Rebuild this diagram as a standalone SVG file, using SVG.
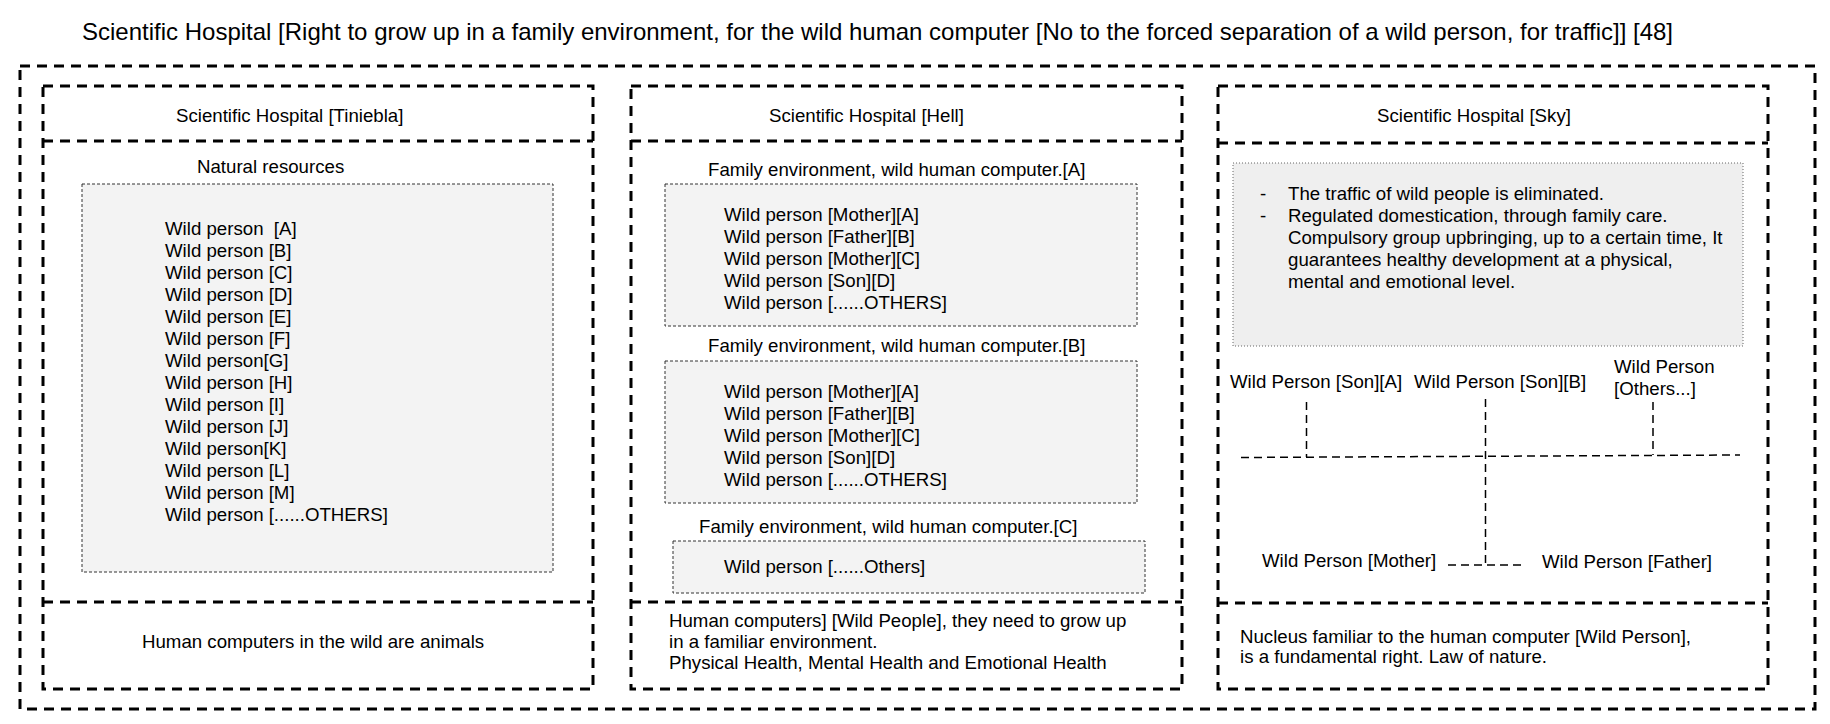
<svg xmlns="http://www.w3.org/2000/svg" width="1830" height="724" viewBox="0 0 1830 724">
<style>
.thick{fill:none;stroke:#000;stroke-width:3;stroke-dasharray:10 7}
.gbox{fill:#f3f3f3;stroke:#333;stroke-width:1;stroke-dasharray:3 2}
.dot{fill:#efefef;stroke:#666;stroke-width:1;stroke-dasharray:1 2}
.conn{fill:none;stroke:#000;stroke-width:1.5;stroke-dasharray:8 5}
text{font-family:"Liberation Sans",Arial,Helvetica,sans-serif;font-size:18.67px;fill:#000}
.title{font-size:24px}
</style>
<rect width="1830" height="724" fill="#fff"/>
<text class="title" x="82" y="40">Scientific Hospital [Right to grow up in a family environment, for the wild human computer [No to the forced separation of a wild person, for traffic]] [48]</text>

<g id="outer"><rect class="thick" x="20" y="66" width="1795" height="643"/></g>

<g id="panel-tiniebla">
<rect class="thick" x="43" y="86" width="550" height="603"/>
<line class="thick" x1="43" y1="141" x2="593" y2="141"/>
<line class="thick" x1="43" y1="602" x2="593" y2="602"/>
<text x="176" y="122">Scientific Hospital [Tiniebla]</text>
<text x="197" y="173">Natural resources</text>
<rect class="gbox" x="82" y="184" width="471" height="388"/>
<text x="165" y="235">Wild person&#160; [A]</text>
<text x="165" y="257">Wild person [B]</text>
<text x="165" y="279">Wild person [C]</text>
<text x="165" y="301">Wild person [D]</text>
<text x="165" y="323">Wild person [E]</text>
<text x="165" y="345">Wild person [F]</text>
<text x="165" y="367">Wild person[G]</text>
<text x="165" y="389">Wild person [H]</text>
<text x="165" y="411">Wild person [I]</text>
<text x="165" y="433">Wild person [J]</text>
<text x="165" y="455">Wild person[K]</text>
<text x="165" y="477">Wild person [L]</text>
<text x="165" y="499">Wild person [M]</text>
<text x="165" y="521">Wild person [......OTHERS]</text>
<text x="142" y="648">Human computers in the wild are animals</text>
</g>

<g id="panel-hell">
<rect class="thick" x="631" y="86" width="551" height="603"/>
<line class="thick" x1="631" y1="141" x2="1182" y2="141"/>
<line class="thick" x1="631" y1="602" x2="1182" y2="602"/>
<text x="769" y="122">Scientific Hospital [Hell]</text>
<text x="708" y="176">Family environment, wild human computer.[A]</text>
<rect class="gbox" x="665" y="184" width="472" height="142"/>
<text x="724" y="221">Wild person [Mother][A]</text>
<text x="724" y="243">Wild person [Father][B]</text>
<text x="724" y="265">Wild person [Mother][C]</text>
<text x="724" y="287">Wild person [Son][D]</text>
<text x="724" y="309">Wild person [......OTHERS]</text>
<text x="708" y="352">Family environment, wild human computer.[B]</text>
<rect class="gbox" x="665" y="361" width="472" height="142"/>
<text x="724" y="398">Wild person [Mother][A]</text>
<text x="724" y="420">Wild person [Father][B]</text>
<text x="724" y="442">Wild person [Mother][C]</text>
<text x="724" y="464">Wild person [Son][D]</text>
<text x="724" y="486">Wild person [......OTHERS]</text>
<text x="699" y="533">Family environment, wild human computer.[C]</text>
<rect class="gbox" x="673" y="541" width="472" height="52"/>
<text x="724" y="573">Wild person [......Others]</text>
<text x="669" y="627">Human computers] [Wild People], they need to grow up</text>
<text x="669" y="648">in a familiar environment.</text>
<text x="669" y="669">Physical Health, Mental Health and Emotional Health</text>
</g>

<g id="panel-sky">
<rect class="thick" x="1218" y="86" width="550" height="603"/>
<line class="thick" x1="1218" y1="143" x2="1768" y2="143"/>
<line class="thick" x1="1218" y1="603" x2="1768" y2="603"/>
<text x="1377" y="122">Scientific Hospital [Sky]</text>
<rect class="dot" x="1233" y="163" width="510" height="183"/>
<text x="1260" y="200">-</text>
<text x="1288" y="200">The traffic of wild people is eliminated.</text>
<text x="1260" y="222">-</text>
<text x="1288" y="222">Regulated domestication, through family care.</text>
<text x="1288" y="244">Compulsory group upbringing, up to a certain time, It</text>
<text x="1288" y="266">guarantees healthy development at a physical,</text>
<text x="1288" y="288">mental and emotional level.</text>
<text x="1240" y="643">Nucleus familiar to the human computer [Wild Person],</text>
<text x="1240" y="663">is a fundamental right. Law of nature.</text>
</g>

<g id="son-a"><text x="1230" y="388">Wild Person [Son][A]</text></g>
<g id="son-b"><text x="1414" y="388">Wild Person [Son][B]</text></g>
<g id="others"><text x="1614" y="373">Wild Person</text><text x="1614" y="395">[Others...]</text></g>
<g id="mother"><text x="1262" y="567">Wild Person [Mother]</text></g>
<g id="father"><text x="1542" y="568">Wild Person [Father]</text></g>

<g id="connectors">
<line class="conn" x1="1241" y1="457.5" x2="1740" y2="455"/>
<line class="conn" x1="1306.5" y1="402" x2="1306.5" y2="457"/>
<line class="conn" x1="1485.5" y1="399" x2="1485.5" y2="565"/>
<line class="conn" x1="1653" y1="402" x2="1653" y2="455"/>
<line class="conn" x1="1448" y1="565" x2="1525" y2="565"/>
</g>
</svg>
